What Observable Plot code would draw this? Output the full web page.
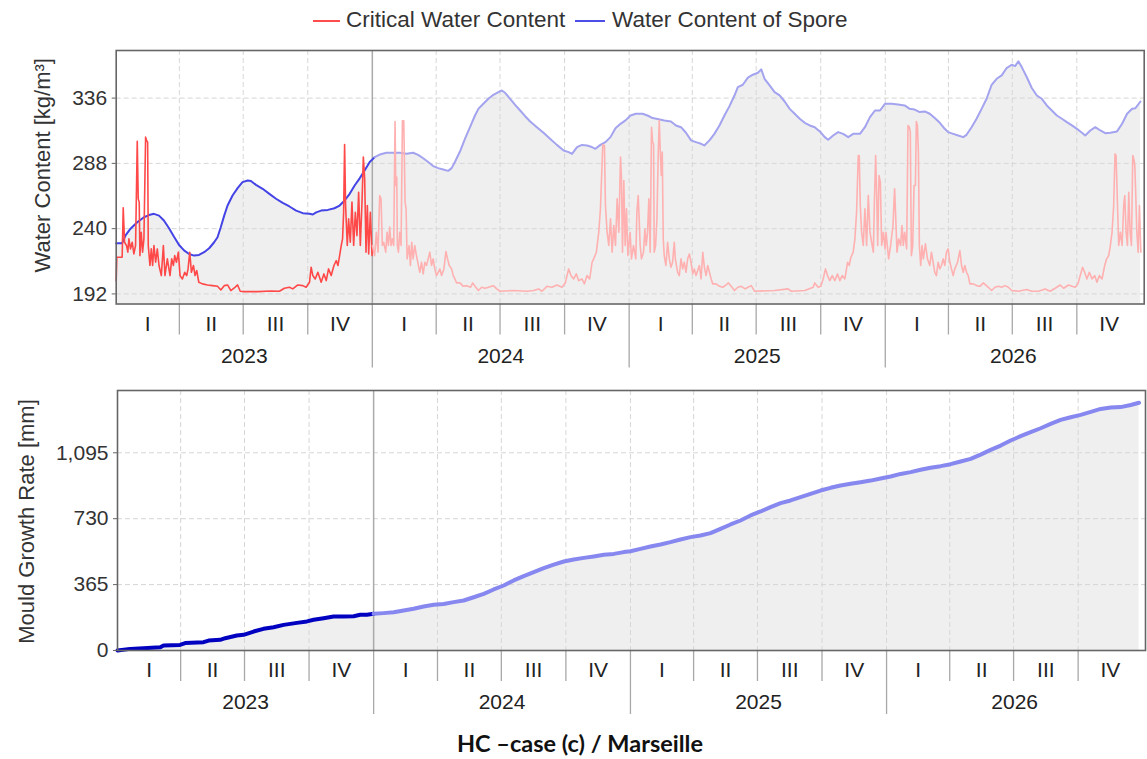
<!DOCTYPE html>
<html><head><meta charset="utf-8">
<script src="https://cdn.jsdelivr.net/npm/d3@7"></script>
<script src="https://cdn.jsdelivr.net/npm/@observablehq/plot@0.6"></script>
<style>
body{margin:0;background:#fff;font-family:"Liberation Sans",Arial,sans-serif;}
#wrap{position:relative;width:1147px;height:759px;overflow:hidden;background:#fff;}
.sw{position:absolute;top:20px;height:2px;}
.lt{position:absolute;top:7px;font-size:22.5px;color:#333;white-space:nowrap;line-height:26px;}
#topChart{position:absolute;top:0;left:0;}
#botChart{position:absolute;top:380px;left:0;}
#caption{position:absolute;top:729px;left:0;width:1160px;text-align:center;font-family:Lato,"Open Sans",sans-serif;font-weight:bold;font-size:23.5px;color:#111;}
</style></head><body>
<div id="wrap">
  <div class="sw" style="left:313px;width:27px;background:#ff4d4d"></div>
  <div class="lt" style="left:346px">Critical Water Content</div>
  <div class="sw" style="left:575px;width:30px;background:#4d4de8"></div>
  <div class="lt" style="left:612px">Water Content of Spore</div>
  <div id="topChart"></div>
  <div id="botChart"></div>
  <div id="caption">HC –case (c) / Marseille</div>
</div>
<script>
// ---------- DATA (days since 2023-01-01) ----------
const sporeDays = [0,8.5,13.3,20.4,30,39.5,46.7,53.8,61,68,75.3,82.4,89.6,96.7,103.9,111,118,125.3,132.5,139.6,144.4,149,153.9,158.7,165.8,173,180,187.3,192,199.2,208.7,218.3,227.8,237.3,246.9,256.4,266,275.5,280.2,285,292,301.7,311,318.4,325.5,332.7,339.8,347,354,361.3,368.4,375.6,
385,394.6,404,413.6,423.2,430.3,437.5,444.6,451.7,458.9,466,473.2,478,482.7,489.9,497,504.2,511.3,516.1,523.2,530.4,537.5,544.7,549.5,554.2,561.4,568.5,575.7,582.8,590,599.5,609,618.6,628,637.6,644.8,649.6,656.7,663.9,671,678,683,690,697.2,704.4,711.5,718.7,725.8,733,740.5,
750,757.2,764.4,771.5,781,790.6,797.7,804.9,812,819.2,826.3,833.5,838.2,845.4,852.5,859.7,866.8,874,881.1,885.9,893,900.2,907.4,914.5,919.3,924,931.2,938.3,945.5,952.6,959.8,966.9,974.1,981.2,988.4,995.5,1002.7,1009.8,1014.6,1021.7,1028.9,1036,1043.2,1050.3,1059.9,1067,1074.2,1081.3,1088.5,1095.6,1105.2,
1114.1,1123.6,1130.8,1137.9,1145.1,1152.2,1159.4,1166.5,1173.7,1180.8,1185.6,1192.8,1199.9,1207.1,1211.8,1219,1226.1,1233.3,1240.4,1247.6,1254.7,1261.9,1269,1276.2,1281,1285.7,1290.5,1297.6,1304.8,1312,1319.1,1326.2,1333.4,1340.5,1347.7,1354.8,1362,1369.1,1376.3,1381,1388.2,1395.3,1402.5,1409.6,1416.8,1426.3,1433.5,1440.6,1447.8,1452.5,1459.7];
const sporeValues = [229.3,229.3,235,240,244.7,248.4,250,250.9,249.6,246,240.3,234,228,224,221.4,220.2,220.7,222.7,225.6,230,233.7,241,249.6,257,264.4,269.8,274.2,275.4,275,272.2,269.3,265.6,262,259,256.3,253.3,251.4,250.9,250.4,252,253.3,253.8,255,257,260.7,265.6,271.7,277,282.8,289,292.6,294.5,
295.8,295.8,295.8,295,295.8,294.3,291.8,289,286,284.5,283.5,282.5,284.5,289,296.7,306,314.6,323.2,328.1,331.8,335.5,338.4,340.4,341.6,339.9,335.5,331,326.9,322.7,318.8,314.6,310.5,306,301.6,297.5,296.3,295,299.9,301.6,301.2,300,298.7,301.6,303.6,307.3,313.9,317.1,319.6,323.2,324.5,
324.5,323.2,321.3,320.7,319.6,318.8,315.9,314.6,310.5,304.9,303.6,302.4,301.2,304.9,309.7,315.9,323.2,330.1,337.9,344.1,345.8,351,353.2,354.6,357.1,350.2,345.3,340.4,338,333.5,328.1,324.5,320.8,317.8,315.9,314.6,311.5,307.3,305.4,308.5,311,309.7,307.3,309.7,309.7,314.6,322,326.9,326.9,331.8,331.8,
331.3,330.6,328.1,327.6,325.7,326.2,324.5,321.3,317.8,313.4,311,309.7,308.5,307.3,309,314.6,320.8,328.1,335.5,345.8,350.2,352.7,358.1,360.5,359.5,363,358.8,351.5,343.4,337.9,335.5,330.6,326.9,323.2,320.8,318.3,315.9,313.4,310.5,308.5,312.2,314.6,312.2,310.2,310.5,311.5,317.1,324.5,328.1,328.6,333.5];

const critical2023 = [[0,201.8],[0.9,219],[8.5,219],[10,255.3],[11.9,230],[14.7,227.6],[16.6,222.7],[18.1,232.5],[20.4,225.1],[22.8,230],[25.2,221.4],[27.6,227.6],[30,304.3],[31.4,261.9],[32.8,259.5],[33.8,220.2],[35.7,237.4],[37.6,222.7],[39.5,232.5],[41.9,307.3],[43.3,304.8],[44.8,303.6],[45.7,227.6],[48.1,212.9],[50,225.1],[51.9,212.9],[53.8,227.6],[56.2,215.3],[58.6,225.1],[61,212.9],[64.3,205.5],[67.2,227.6],[69.5,205.5],[72.9,217.8],[76.7,205.5],[79.1,217.8],[81.5,212.9],[83.4,220.2],[85.8,215.3],[88.6,222.7],[91,205.5],[94.3,203],[97.7,207.9],[100.5,205.5],[102.4,210.4],[104.8,222.7],[107.2,207.9],[110.1,212.9],[112.4,205.5],[114.8,209.2],[117.7,200.6],[122.9,199.4],[130.1,198.6],[137.2,198.1],[144.4,197.6],[149.1,194.9],[153.9,198.1],[158.7,198.6],[163.4,194.5],[169.2,196.9],[173,198.6],[176.8,194],[182.5,193.7],[201.6,193.7],[220.6,194.2],[232.6,194],[239.7,196.2],[246.9,196.9],[251.6,195.7],[258.8,198.6],[265.9,198.1],[270.7,196.9],[275.5,200.6],[277.8,211.6],[280.2,205.5],[283.6,203],[287.4,207.9],[292.1,200.6],[296,206.7],[299.3,201.8],[302.6,210.4],[306.4,205.5],[310.3,212.9],[313.6,216.5],[316,212.9],[318.4,220.2],[320.7,227.6],[322.6,232.5],[324.1,252.1],[325.5,301.9],[326.9,257],[329.3,227.6],[331.2,247.2],[333.6,230],[336,259.5],[338.4,227.6],[340.8,252.1],[343.1,234.9],[345.5,266.8],[347.9,227.6],[350.3,259.5],[352.2,292.6],[354.1,276.6],[356,222.7],[357.9,257],[359.8,221.4],[362.2,252.1],[364.6,220.2]];
const critical2024 = [[365,227.6],[368.3,220.2],[370.7,237.4],[373.1,222.7],[375.5,264.4],[377.4,261.9],[379.3,227.6],[381.2,230],[384.1,222.7],[386,237.4],[387.9,227.6],[389.8,241.1],[391.7,227.6],[393.6,232.5],[395.5,227.6],[397.4,318.8],[398.4,271.7],[399.8,277.9],[400.7,227.6],[402.2,222.7],[404.1,237.4],[406,227.6],[407.9,319.3],[409.8,319.3],[411.7,259.5],[413.1,254.6],[414.6,217.8],[417.4,227.6],[419.3,212.9],[421.2,230],[423.2,217.8],[425.5,227.6],[427.9,220.2],[432.7,207.9],[435.1,215.3],[437.5,206.7],[439.8,215.3],[442.2,212.9],[444.6,217.8],[447,222.7],[449.4,212.9],[451.7,217.8],[454.1,210.4],[456.5,205.5],[458.9,207.9],[461.3,210.4],[463.7,205.5],[467,210.4],[469.9,223.2],[472.2,217.8],[474.6,212.9],[478,210.4],[480.3,205.5],[482.7,203],[485.1,200.1],[489.9,200.1],[494.6,197.6],[499.4,198.1],[505.1,196.9],[508,200.1],[511.3,197.6],[516.1,194.5],[520.9,196.9],[525.6,196.2],[530.4,196.9],[537.5,198.1],[542.3,195.7],[547.1,194],[566.1,194.5],[585.2,194],[594.7,194.5],[601.9,195.7],[606.7,194],[613.8,197.6],[621,196.9],[628.1,198.6],[635.3,196.9],[640,200.1],[644.8,210.4],[648.1,205.5],[651.9,203],[655.7,206.7],[659.1,201.8],[663.9,203],[667.2,199.4],[671,205.5],[674.8,203],[678.2,215.3],[680.5,217.8],[684.3,222.7],[687.7,237.4],[690.1,254.6],[693.4,301.6],[695.8,301.2],[697.2,257],[699.6,237.4],[702,227.6],[704.4,247.2],[706.8,222.7],[709.1,242.3],[711.5,227.6],[713.9,261.9],[716.3,237.4],[718.7,292.6],[720.1,276.6],[721.5,222.7],[723.4,275.4],[725.3,227.6],[727.2,254.6],[729.2,220.2]];
const critical2025 = [[732.4,237.4],[734.3,217.8],[737.2,227.6],[740.5,217.8],[742,252.1],[743.9,264.4],[745.3,247.2],[746.7,227.6],[748.6,217.8],[751.5,222.7],[753.4,239.8],[755.3,227.6],[757.2,237.4],[759.1,261.9],[761,222.7],[762.9,314.6],[764.4,303.6],[765.8,302.4],[766.7,222.7],[768.7,227.6],[770.6,247.2],[772.5,296.3],[773.9,319.6],[775.4,296.3],[776.8,279.1],[778.2,296.3],[779.6,232.5],[781,220.2],[783.4,212.9],[785.8,230],[788.2,217.8],[790.6,211.6],[792.9,215.3],[795.3,230],[796.8,217.8],[800.1,207.9],[802.5,205.5],[804.9,217.8],[807.3,210.4],[809.6,215.3],[812,207.9],[814.4,217.8],[816.8,221.4],[819.2,215.3],[821.6,206.7],[823.9,210.4],[826.3,205.5],[828.7,209.2],[831.1,212.9],[833.5,203],[835.9,222.7],[838.2,211.6],[840.6,205.5],[843,212.9],[845.4,207.9],[847.8,203],[850.2,199.4],[854.9,199.4],[859.7,197.6],[864.5,196.9],[869.2,198.6],[872.6,200.1],[876.4,197.6],[881.1,194.5],[885.9,196.9],[890.7,197.6],[896.4,195.7],[900.2,196.9],[905,198.1],[909.7,194],[938.3,194.5],[957.4,195.7],[962.2,194],[981.2,194.5],[993.2,196.9],[995.5,200.1],[1000.3,196.9],[1004.1,197.6],[1007.5,203],[1010.8,210.4],[1013.7,205.5],[1017,201.8],[1020.4,205.5],[1024.1,201.8],[1027.9,206.7],[1031.3,201.8],[1034.6,205.5],[1038.4,203],[1042.3,215.3],[1044.6,212.9],[1047,219],[1050.3,222.7],[1052.7,232.5],[1055.1,252.1],[1057.5,293.8],[1058.9,293.8],[1060.4,257],[1062.3,237.4],[1064.6,227.6],[1067,254.6],[1069.4,227.6],[1071.8,264.4],[1074.2,237.4],[1076.6,230],[1079,222.7],[1080.4,257],[1082.3,293.8],[1083.8,264.4],[1085.2,227.6],[1087.1,279.1],[1089,274.2],[1090.9,227.6],[1093.3,237.4],[1095.7,225.1]];
const critical2026 = [[1097,237.4],[1098.9,227.6],[1100.8,217.8],[1103.6,227.6],[1107,242.3],[1109.3,269.3],[1110.8,249.6],[1112.7,222.7],[1115.1,232.5],[1117.9,227.6],[1119.8,242.3],[1121.7,227.6],[1123.6,237.4],[1126.5,225.1],[1128.4,315.9],[1130.3,314.6],[1131.7,311],[1133.2,220.2],[1135.1,227.6],[1137,271.7],[1138.9,271.7],[1140.3,318.8],[1141.8,315.9],[1143.2,296.3],[1144.6,227.6],[1146.5,212.9],[1148.4,227.6],[1150.3,217.8],[1153.2,228.8],[1156.1,217.8],[1159.4,212.9],[1161.8,222.7],[1164.2,215.3],[1166.5,207.9],[1168.9,205.5],[1171.3,215.3],[1173.7,210.4],[1176.1,212.9],[1178.5,217.8],[1180.8,212.9],[1183.2,222.7],[1185.6,225.1],[1188,215.3],[1190.4,210.4],[1192.8,205.5],[1195.1,210.4],[1199,215.3],[1202.3,223.9],[1204.7,212.9],[1207.1,207.9],[1209.4,212.9],[1211.8,207.9],[1214.2,205.5],[1216.6,199.4],[1221.4,199.4],[1226.1,198.1],[1230.9,197.6],[1235.7,200.1],[1239,198.6],[1242.8,196.9],[1247.6,194.5],[1252.3,196.9],[1257.1,197.6],[1261.9,196.9],[1266.6,198.1],[1271.4,196.9],[1276.2,194.5],[1285.7,194],[1297.6,195.2],[1304.8,194],[1314.3,194],[1323.8,195.7],[1331,194],[1338.1,196.2],[1345.3,198.6],[1350.1,196.2],[1357.2,198.6],[1362,197.6],[1366.7,196.9],[1370.5,199.4],[1373.9,205.5],[1377.2,211.6],[1380.1,207.9],[1383.4,203],[1386.8,207.9],[1390.6,203],[1394.4,205.5],[1397.7,200.6],[1401.1,205.5],[1404.9,203],[1408.7,212.9],[1411.5,217.8],[1414.4,220.2],[1416.8,227.6],[1419.2,237.4],[1421.5,257],[1423.4,295],[1424.9,293.8],[1426.8,259.5],[1428.7,227.6],[1431.1,237.4],[1433.5,227.6],[1435.8,257],[1437.3,264.4],[1439.2,237.4],[1441.1,227.6],[1443,266.8],[1444.9,237.4],[1446.8,227.6],[1448.7,293.8],[1450.2,291.3],[1451.6,286.4],[1453,264.4],[1454.5,237.4],[1456.4,222.7],[1458.2,257],[1460.2,222.7]];

const growthDays = [0,18,37,61,65.6,89,96.5,122.6,129.8,146.4,153.5,170,179.7,194,208,222.4,236.7,255.7,270,279.5,293.7,308,322.2,336.5,346,355.5,365,
379.3,393.5,407.8,422,436.3,450.6,464.8,479,493.3,507.6,521.9,536.1,550.4,564.6,578.9,593.2,607.4,621.7,636,650.2,664.5,678.7,693,707.2,721.5,
731,745.3,759.5,773.8,788,802.3,816.6,830.8,845.1,859.3,873.6,887.8,902.1,916.4,930.6,944.9,959.1,973.4,987.6,1001.9,1016.2,1030.4,1044.7,1058.9,1073.2,1087.5,
1101.7,1116,1130.2,1144.5,1158.7,1173,1187.3,1201.5,1215.8,1230,1244.3,1258.6,1272.8,1287,1301.3,1315.6,1329.8,1344,1358.4,1372.6,1385.9,1401.1,1415.4,1429.6,1443.9,1455.8];
const growthValues = [0,9,13,18,28,31,41,46,55,59,68,83,87,105,120,129,142,153,161,170,179,188,188,190,198,198,203,
207,212,222,231,244,253,258,268,277,295,314,338,360,388,412,434,456,476,493,504,513,521,530,535,545,
550,563,576,587,600,615,628,637,650,674,698,720,748,770,794,816,831,849,868,886,901,914,923,932,941,953,
964,978,988,1001,1012,1021,1032,1047,1061,1085,1111,1135,1163,1187,1209,1231,1255,1277,1292,1305,1320,1338,1346,1348,1360,1372];

const waterTicks = [192, 240, 288, 336];
const growthTicks = [0, 365, 730, 1095];
const quarterNames = ["I", "II", "III", "IV"];
const years = [2023, 2024, 2025, 2026];
const topYLabel = "Water Content [kg/m³]";
const botYLabel = "Mould Growth Rate [mm]";

// ---------- helpers ----------
const START = Date.UTC(2023, 0, 1);
const toDate = d => new Date(START + d * 864e5);
const boundary = new Date(Date.UTC(2024, 0, 1));
const xDomain = [new Date(Date.UTC(2023, 0, 1)), new Date(Date.UTC(2027, 0, 5))];

const spore = sporeDays.map((d, i) => ({date: toDate(d), value: sporeValues[i]}));
const critical = [...critical2023, ...critical2024, ...critical2025, ...critical2026].map(([d, v]) => ({date: toDate(d), value: v}));
const growth = growthDays.map((d, i) => ({date: toDate(d), value: growthValues[i]}));

function split(data) {
  const i = data.findIndex(d => d.date >= boundary);
  return [data.slice(0, i + 1), data.slice(i)];
}

const quarterStarts = [], quarterMids = [], yearSeps = [], yearMids = [];
for (const y of years) {
  for (let q = 0; q < 4; q++) {
    const s = new Date(Date.UTC(y, q * 3, 1)), e = new Date(Date.UTC(y, q * 3 + 3, 1));
    if (q > 0) quarterStarts.push(s);
    quarterMids.push(new Date((+s + +e) / 2));
  }
  if (y > 2023) yearSeps.push(new Date(Date.UTC(y, 0, 1)));
  yearMids.push(new Date((Date.UTC(y, 0, 1) + Date.UTC(y + 1, 0, 1)) / 2));
}
const gridXDates = [...quarterStarts, ...yearSeps.filter(d => +d !== +boundary)];

function xAxes() {
  return [
    Plot.axisX(quarterStarts, {tickSize: 31, tickFormat: () => "", stroke: "#a8a8a8", strokeWidth: 1.3}),
    Plot.axisX(yearSeps, {tickSize: 64, tickFormat: () => "", stroke: "#a8a8a8", strokeWidth: 1.3}),
    Plot.axisX(quarterMids, {tickSize: 0, tickPadding: 12, tickFormat: d => quarterNames[Math.floor(d.getUTCMonth() / 3)], fontSize: 21, fill: "#222"}),
    Plot.axisX(yearMids, {tickSize: 0, tickPadding: 44, tickFormat: d => String(d.getUTCFullYear()), fontSize: 21, fill: "#222"})
  ];
}

const [sporePast, sporeFut] = split(spore);
const [critPast, critFut] = split(critical);
const [growPast, growFut] = split(growth);

const topPlot = Plot.plot({
  width: 1147, height: 380,
  marginTop: 50, marginBottom: 76.5, marginLeft: 115.7, marginRight: 3.3,
  style: {fontFamily: "Liberation Sans, Arial, sans-serif", fontSize: "21px", color: "#333", background: "transparent"},
  x: {type: "utc", domain: xDomain},
  y: {domain: [184.6, 371]},
  marks: [
    Plot.areaY(spore, {x: "date", y: "value", fill: "#efefef", clip: true}),
    Plot.gridY(waterTicks, {stroke: "#d6d6d6", strokeOpacity: 1, strokeDasharray: "5,3"}),
    Plot.gridX(gridXDates, {stroke: "#d6d6d6", strokeOpacity: 1, strokeDasharray: "5,3"}),
    Plot.ruleX([boundary], {stroke: "#aaaaaa", strokeWidth: 1.5}),
    Plot.line(sporePast, {x: "date", y: "value", stroke: "#4444e6", strokeWidth: 2}),
    Plot.line(sporeFut, {x: "date", y: "value", stroke: "#a3a3f0", strokeWidth: 2}),
    Plot.line(critPast, {x: "date", y: "value", stroke: "#ff4848", strokeWidth: 1.6}),
    Plot.line(critFut, {x: "date", y: "value", stroke: "#ffb0b0", strokeWidth: 1.6}),
    Plot.axisY(waterTicks, {tickSize: 4, tickPadding: 5, fontSize: 21, fill: "#333", stroke: "#666", label: null}),
    Plot.text([topYLabel], {text: d => d, frameAnchor: "left", textAnchor: "middle", lineAnchor: "middle", rotate: -90, dx: -73, dy: -12, fontSize: 22, fill: "#333"}),
    ...xAxes(),
    Plot.frame({stroke: "#666", strokeWidth: 1.6})
  ]
});
document.getElementById("topChart").appendChild(topPlot);

const botPlot = Plot.plot({
  width: 1147, height: 345,
  marginTop: 10, marginBottom: 75, marginLeft: 117, marginRight: 2,
  style: {fontFamily: "Liberation Sans, Arial, sans-serif", fontSize: "21px", color: "#333", background: "transparent"},
  x: {type: "utc", domain: xDomain},
  y: {domain: [0, 1440]},
  marks: [
    Plot.areaY(growth, {x: "date", y: "value", fill: "#efefef", clip: true}),
    Plot.gridY(growthTicks.slice(1), {stroke: "#d6d6d6", strokeOpacity: 1, strokeDasharray: "5,3"}),
    Plot.gridX(gridXDates, {stroke: "#d6d6d6", strokeOpacity: 1, strokeDasharray: "5,3"}),
    Plot.ruleX([boundary], {stroke: "#aaaaaa", strokeWidth: 1.5}),
    Plot.line(growPast, {x: "date", y: "value", stroke: "#0000c0", strokeWidth: 4}),
    Plot.line(growFut, {x: "date", y: "value", stroke: "#8787f0", strokeWidth: 4}),
    Plot.axisY(growthTicks, {tickSize: 4, tickPadding: 5, fontSize: 21, fill: "#333", stroke: "#666", tickFormat: d3.format(","), label: null}),
    Plot.text([botYLabel], {text: d => d, frameAnchor: "left", textAnchor: "middle", lineAnchor: "middle", rotate: -90, dx: -91, dy: 1, fontSize: 22, fill: "#333"}),
    ...xAxes(),
    Plot.frame({stroke: "#666", strokeWidth: 1.6})
  ]
});
document.getElementById("botChart").appendChild(botPlot);
</script>
</body></html>
